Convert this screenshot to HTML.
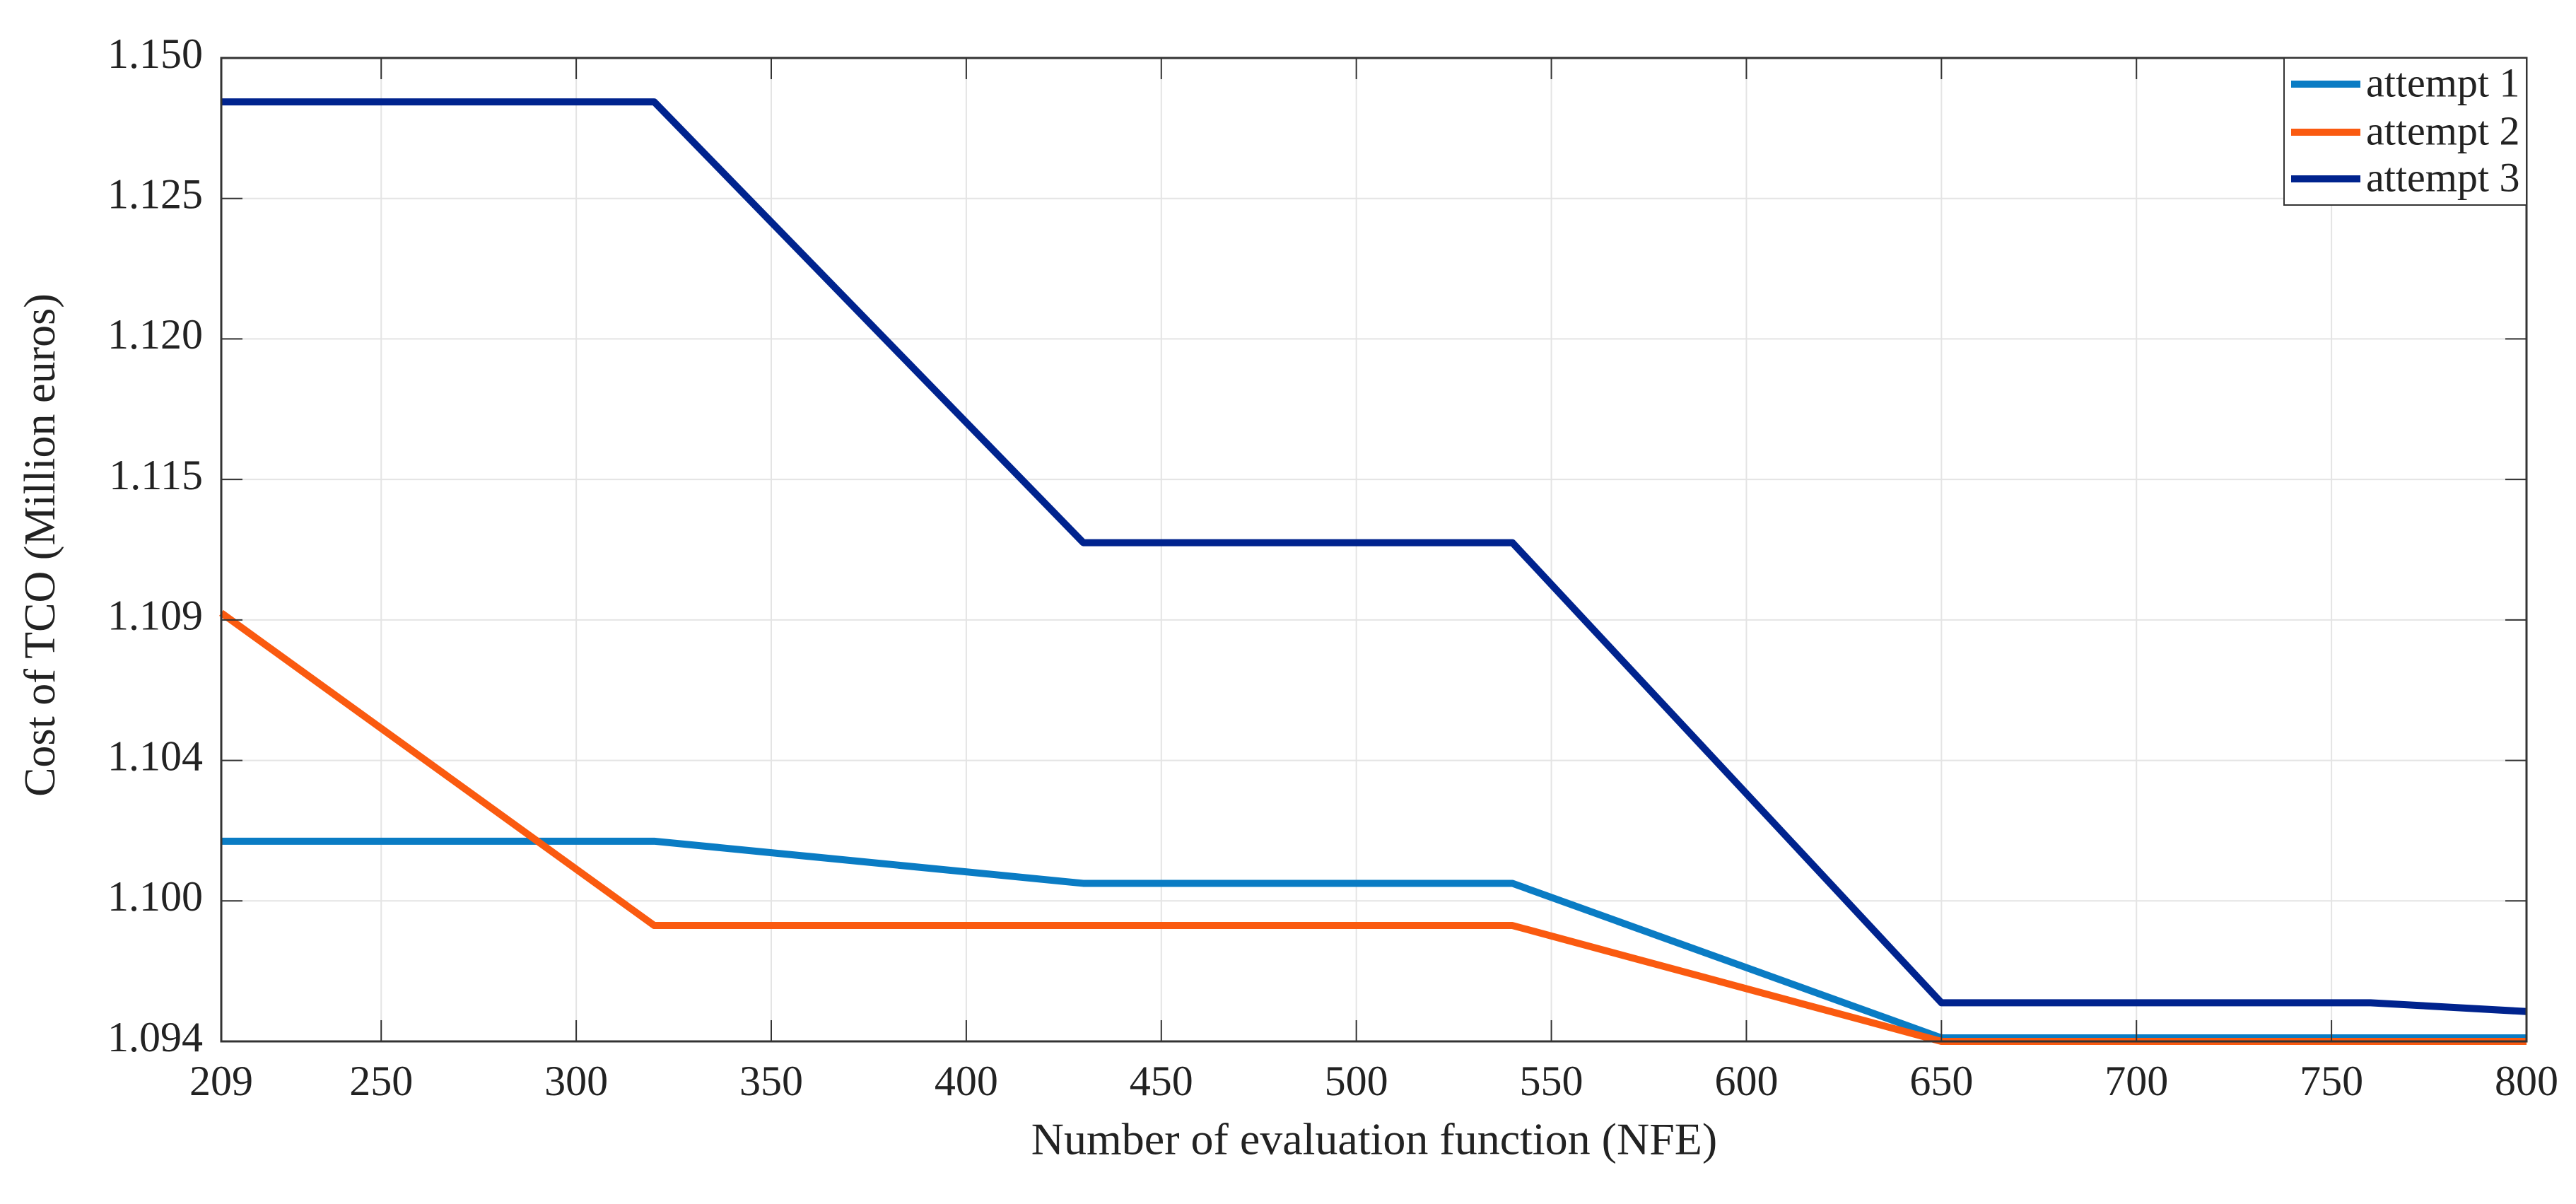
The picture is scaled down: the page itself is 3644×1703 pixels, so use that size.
<!DOCTYPE html>
<html><head><meta charset="utf-8"><style>
html,body{margin:0;padding:0;background:#fff;}
svg{display:block;font-family:"Liberation Serif",serif;}
</style></head><body>
<svg id="chart" width="3644" height="1703" viewBox="0 0 3644 1703">
<g id="grid"></g>
<g id="series"></g>
<g id="axes"></g>
<text x="63" y="771" font-size="62" text-anchor="middle" dominant-baseline="middle" transform="rotate(-90 63 771)" fill="#222">Cost of TCO (Million euros)</text>
<text x="1944" y="1618" font-size="64" text-anchor="middle" dominant-baseline="middle" fill="#222">Number of evaluation function (NFE)</text>
<g id="legend"></g>
</svg>
<script>
const xTicks = [209,250,300,350,400,450,500,550,600,650,700,750,800];
const yTickValues = [1.094,1.102,1.110,1.118,1.126,1.134,1.142,1.150];
const yTickLabels = ["1.094","1.100","1.104","1.109","1.115","1.120","1.125","1.150"];
const nfe = [209,320,430,540,650,760,800];
const attempt1 = [1.1054,1.1054,1.1030,1.1030,1.0942,1.0942,1.0942];
const attempt2 = [1.1184,1.1006,1.1006,1.1006,1.0940,1.0940,1.0940];
const attempt3 = [1.1475,1.1475,1.1224,1.1224,1.0962,1.0962,1.0957];
const seriesNames = ["attempt 1","attempt 2","attempt 3"];
const colors = ["#0a7cc4","#fa5a10","#00238e"];

const L=313,R=3574,T=82,B=1473;
const xMin=209,xMax=800,yMin=1.094,yMax=1.150;
const sx=v=>L+(v-xMin)/(xMax-xMin)*(R-L);
const sy=v=>B-(v-yMin)/(yMax-yMin)*(B-T);
const NS="http://www.w3.org/2000/svg";
function mk(tag,attrs,parent){const e=document.createElementNS(NS,tag);for(const k in attrs)e.setAttribute(k,attrs[k]);parent.appendChild(e);return e;}
const grid=document.getElementById('grid'),axes=document.getElementById('axes'),ser=document.getElementById('series'),leg=document.getElementById('legend');
xTicks.forEach(t=>{
  const x=sx(t);
  const g=mk('line',{x1:x,x2:x,y1:T,y2:B,stroke:'#e4e4e4','stroke-width':2},grid);
  
  
  const tk=mk('line',{x1:x,x2:x,y1:B,y2:B-30,stroke:'#333','stroke-width':2},axes);
  
  
  const tk2=mk('line',{x1:x,x2:x,y1:T,y2:T+30,stroke:'#333','stroke-width':2},axes);
  
  
  const lb=mk('text',{x:x,y:1535,'font-size':60,'text-anchor':'middle','dominant-baseline':'middle',fill:'#222'},axes);
  lb.textContent=t;
  
  
});
yTickValues.forEach((t,i)=>{
  const y=sy(t);
  const g=mk('line',{x1:L,x2:R,y1:y,y2:y,stroke:'#e4e4e4','stroke-width':2},grid);
  
  
  const tk=mk('line',{x1:L,x2:L+30,y1:y,y2:y,stroke:'#333','stroke-width':2},axes);
  
  
  const tk2=mk('line',{x1:R,x2:R-30,y1:y,y2:y,stroke:'#333','stroke-width':2},axes);
  
  
  const lb=mk('text',{x:287,y:y,'font-size':60,'text-anchor':'end','dominant-baseline':'middle',fill:'#222'},axes);
  lb.textContent=yTickLabels[i];
  
  
});
const box=mk('rect',{x:L,y:T,width:R-L,height:B-T,fill:'none',stroke:'#333','stroke-width':3},axes);


[attempt1,attempt2,attempt3].forEach((vals,i)=>{
  const pts=vals.map((v,j)=>sx(nfe[j])+','+sy(v)).join(' ');
  const pl=mk('polyline',{points:pts,fill:'none',stroke:colors[i],'stroke-width':10,'stroke-linejoin':'round'},ser);
  
  
});
const lb=mk('rect',{x:3231,y:T,width:R-3231,height:208,fill:'#fff',stroke:'#333','stroke-width':2},leg);


const ly=[119,187,253];
seriesNames.forEach((n,i)=>{
  const ln=mk('line',{x1:3241,x2:3339,y1:ly[i],y2:ly[i],stroke:colors[i],'stroke-width':10},leg);
  
  
  const t=mk('text',{x:3347,y:ly[i]+4,'font-size':58,'dominant-baseline':'middle',fill:'#222'},leg);
  t.textContent=n;
  
  
});
</script>
</body></html>
